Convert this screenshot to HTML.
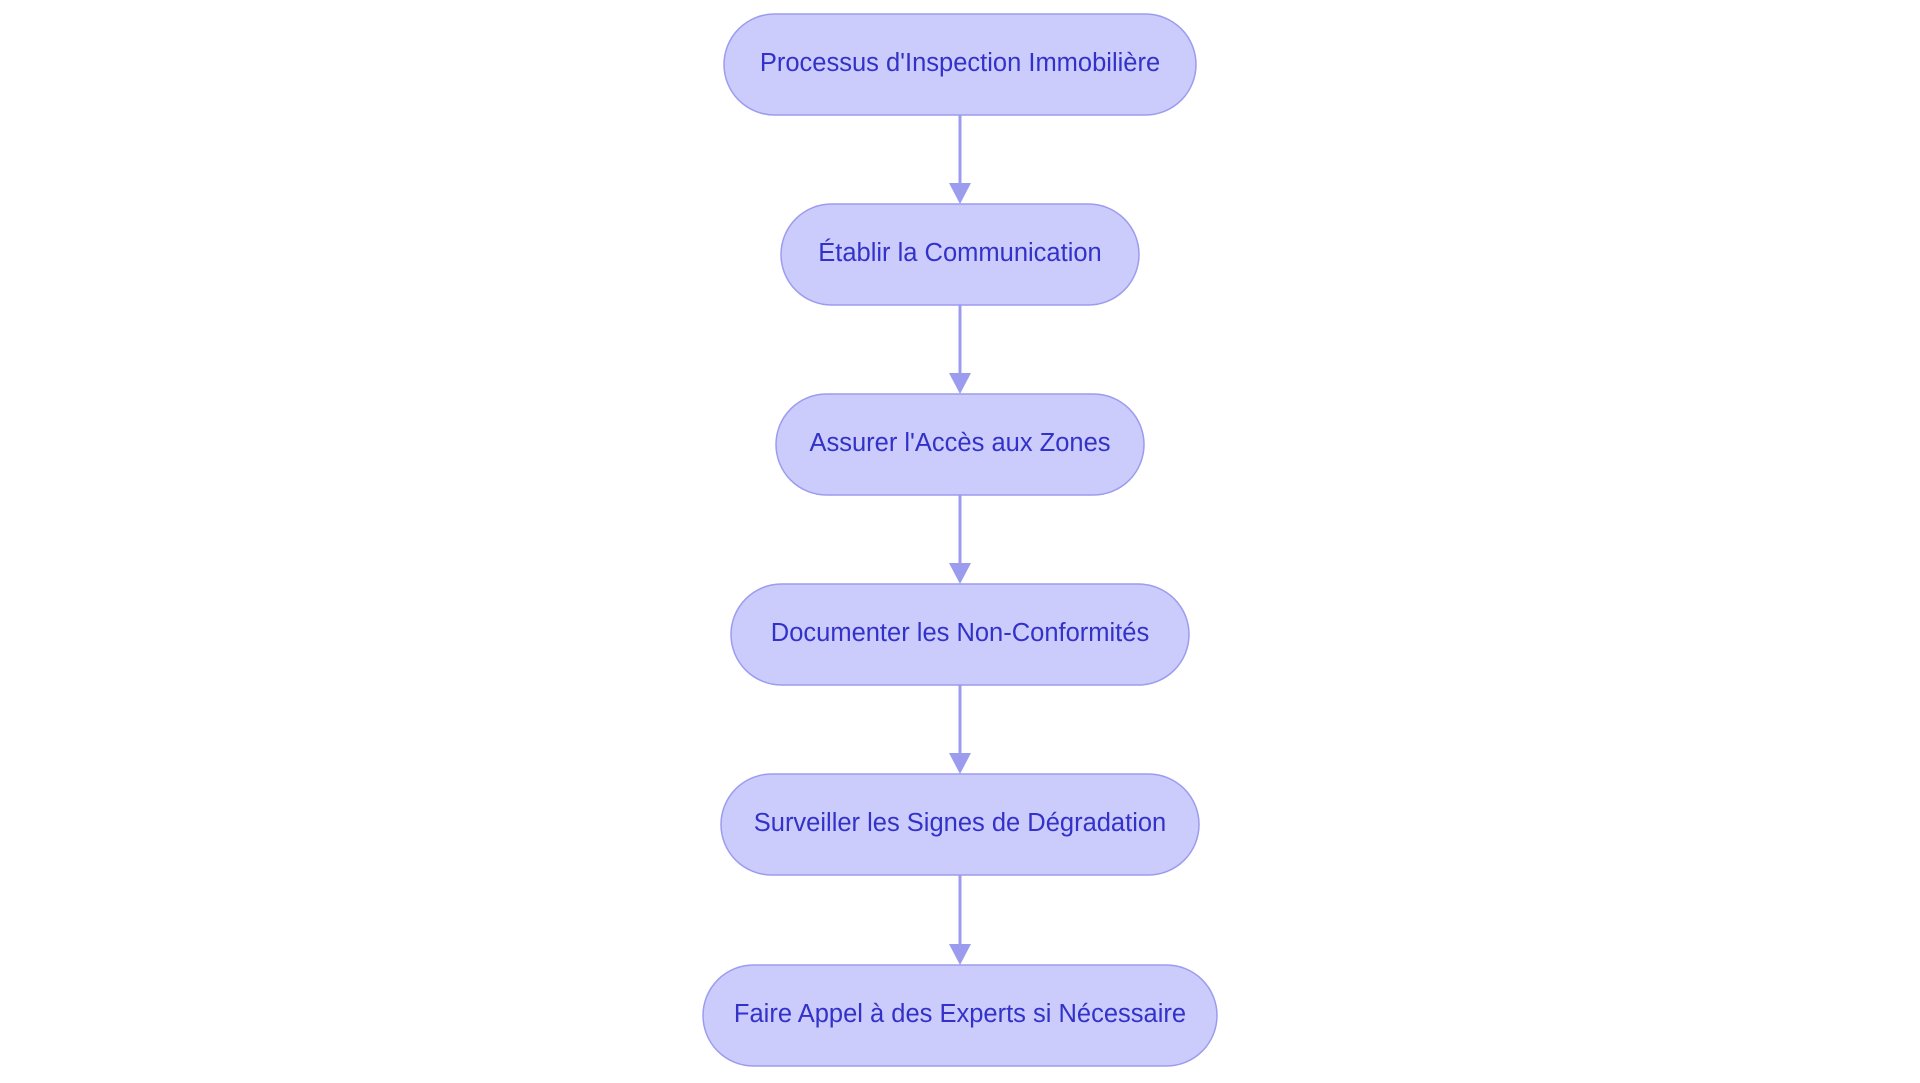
<!DOCTYPE html>
<html><head><meta charset="utf-8"><style>
html,body{margin:0;padding:0;background:#fff;width:1920px;height:1083px;overflow:hidden}
svg{display:block}
text{font-family:"Liberation Sans",sans-serif;font-size:25.5px;fill:#3232c8;text-anchor:middle;dominant-baseline:central}
</style></head><body>
<svg width="1920" height="1083" viewBox="0 0 1920 1083">
<g fill="#cbcbfc" stroke="#9c9cef" stroke-width="1.5">
<rect x="724" y="14" width="472" height="101" rx="50.5"/>
<rect x="781" y="204" width="358" height="101" rx="50.5"/>
<rect x="776" y="394" width="368" height="101" rx="50.5"/>
<rect x="731" y="584" width="458" height="101" rx="50.5"/>
<rect x="721" y="774" width="478" height="101" rx="50.5"/>
<rect x="703" y="965" width="514" height="101" rx="50.5"/>
</g>
<g stroke="#9c9cef" stroke-width="3">
<line x1="960" y1="115" x2="960" y2="186"/>
<line x1="960" y1="305" x2="960" y2="376"/>
<line x1="960" y1="495" x2="960" y2="566"/>
<line x1="960" y1="685" x2="960" y2="756"/>
<line x1="960" y1="875" x2="960" y2="947"/>
</g>
<g fill="#9c9cef">
<polygon points="949,183 971,183 960,204"/>
<polygon points="949,373 971,373 960,394"/>
<polygon points="949,563 971,563 960,584"/>
<polygon points="949,753 971,753 960,774"/>
<polygon points="949,944 971,944 960,965"/>
</g>
<text x="960" y="63">Processus d'Inspection Immobilière</text>
<text x="960" y="253">Établir la Communication</text>
<text x="960" y="443">Assurer l'Accès aux Zones</text>
<text x="960" y="633">Documenter les Non-Conformités</text>
<text x="960" y="823">Surveiller les Signes de Dégradation</text>
<text x="960" y="1014">Faire Appel à des Experts si Nécessaire</text>
</svg>
</body></html>
